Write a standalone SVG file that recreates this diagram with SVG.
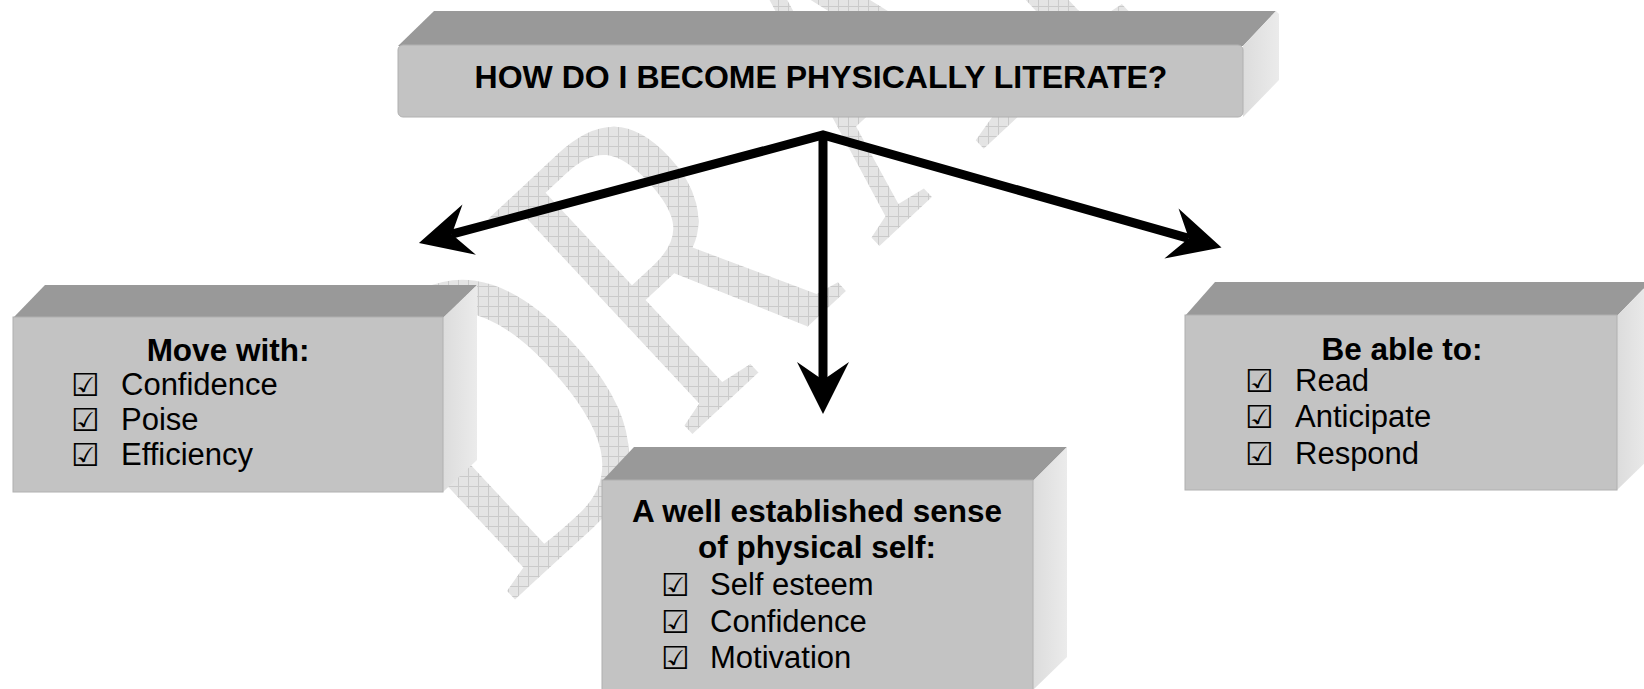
<svg xmlns="http://www.w3.org/2000/svg" width="1644" height="689" viewBox="0 0 1644 689">
<style>
.front{fill:#c3c3c3;stroke:#b0b0b0;stroke-width:1}
.top{fill:#999999}
.side{fill:url(#sideg)}
.t{font-family:"Liberation Sans",Arial,sans-serif;fill:#000}
.b{font-weight:bold;font-size:31.5px;text-anchor:middle}
.i{font-size:31px}
.cb{font-family:"DejaVu Sans",sans-serif;font-size:32px;fill:#000}
.wm{font-family:"Liberation Serif","Times New Roman",serif;font-size:453px;fill:url(#grid)}
.ln{fill:none;stroke:#000;stroke-width:9;stroke-linejoin:miter;stroke-miterlimit:10}
</style>
<defs>
<linearGradient id="sideg" x1="0" y1="0" x2="1" y2="0">
<stop offset="0" stop-color="#dcdcdc"/><stop offset="1" stop-color="#ebebeb"/>
</linearGradient>
<pattern id="grid" patternUnits="userSpaceOnUse" width="10" height="10" patternTransform="scale(1.3605,1) rotate(43)">
<rect width="10" height="10" fill="#e4e4e4"/>
<path d="M0,0.5H10M0.5,0V10" stroke="#cacaca" stroke-width="1"/>
</pattern>
<marker id="ah" markerUnits="userSpaceOnUse" orient="auto-start-reverse" viewBox="-54 -28 56 56" markerWidth="56" markerHeight="56" refX="-34" refY="0">
<path d="M0,0 L-52,-26 L-34,0 L-52,26 Z" fill="#000"/>
</marker>
</defs>
<rect width="1644" height="689" fill="#fff"/>
<g id="watermark" transform="translate(508,606) rotate(-43) scale(0.735,1)">
<text class="wm" x="0" y="0">DR<tspan dx="70" dy="-10">AFT</tspan></text>
</g>
<g id="node-top">
<polygon class="top" points="398,46 434,11 1276,11 1243,46"/>
<polygon class="side" points="1243,46 1276,11 1279,14 1279,80 1243,117"/>
<rect class="front" x="398" y="45" width="845" height="72" rx="5"/>
<text class="t" x="821" y="88" font-weight="bold" font-size="32" text-anchor="middle">HOW DO I BECOME PHYSICALLY LITERATE?</text>
</g>
<g id="node-left">
<polygon class="top" points="13,318 45,285 477,285 443,318"/>
<polygon class="side" points="443,318 477,285 477,460 443,492"/>
<rect class="front" x="13" y="317" width="430" height="175"/>
<text class="t b" x="228" y="361">Move with:</text>
<text class="cb" x="71" y="396">☑</text><text class="t i" x="121" y="395">Confidence</text>
<text class="cb" x="71" y="431">☑</text><text class="t i" x="121" y="430">Poise</text>
<text class="cb" x="71" y="466">☑</text><text class="t i" x="121" y="465">Efficiency</text>
</g>
<g id="node-middle">
<polygon class="top" points="602,481 634,447 1067,447 1033,481"/>
<polygon class="side" points="1033,481 1067,447 1067,657 1033,690"/>
<rect class="front" x="602" y="480" width="431" height="215"/>
<text class="t b" x="817" y="522">A well established sense</text>
<text class="t b" x="817" y="558">of physical self:</text>
<text class="cb" x="661" y="596">☑</text><text class="t i" x="710" y="595">Self esteem</text>
<text class="cb" x="661" y="633">☑</text><text class="t i" x="710" y="632">Confidence</text>
<text class="cb" x="661" y="669">☑</text><text class="t i" x="710" y="668">Motivation</text>
</g>
<g id="node-right">
<polygon class="top" points="1185,316 1215,282 1650,282 1617,316"/>
<polygon class="side" points="1617,316 1650,282 1650,458 1617,490"/>
<rect class="front" x="1185" y="315" width="432" height="175"/>
<text class="t b" x="1402" y="360">Be able to:</text>
<text class="cb" x="1245" y="392">☑</text><text class="t i" x="1295" y="391">Read</text>
<text class="cb" x="1245" y="428">☑</text><text class="t i" x="1295" y="427">Anticipate</text>
<text class="cb" x="1245" y="465">☑</text><text class="t i" x="1295" y="464">Respond</text>
</g>
<g id="connectors">
<path class="ln" d="M451.8,234.2 L823,135 L1188.8,238.3" marker-start="url(#ah)" marker-end="url(#ah)"/>
<path class="ln" d="M823,137 L823,380" marker-end="url(#ah)"/>
</g>
</svg>
